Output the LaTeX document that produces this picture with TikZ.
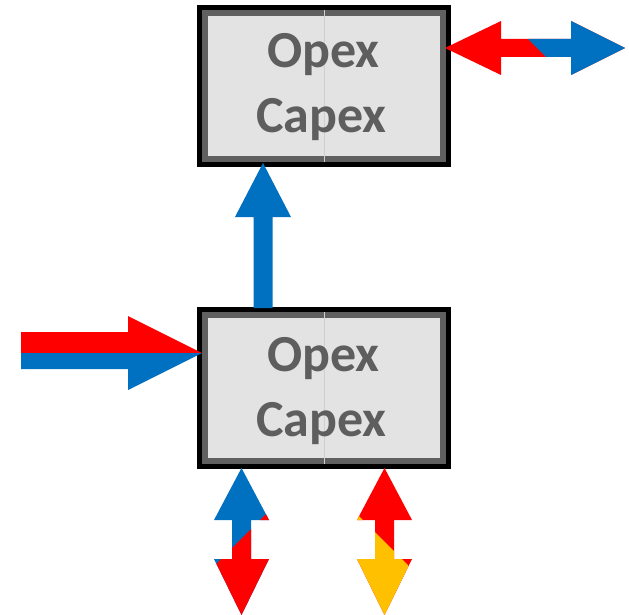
\documentclass[tikz,border=0pt]{standalone}
\usepackage{fontspec}
\setmainfont{Carlito}
\usetikzlibrary{calc}
\definecolor{arRed}{HTML}{FF0000}
\definecolor{arBlue}{HTML}{0070C0}
\definecolor{arYellow}{HTML}{FFC000}
\definecolor{boxFill}{HTML}{E3E3E3}
\definecolor{bandGray}{HTML}{606060}
\definecolor{txtGray}{HTML}{5E5E5E}
\definecolor{seam}{HTML}{CFCFCF}
\begin{document}
\begin{tikzpicture}[x=1pt,y=-1pt,
  box/.style={draw=black, line width=5pt, fill=boxFill, minimum width=249pt, minimum height=157pt, inner sep=0pt, outer sep=0pt},
  band/.style={draw=bandGray, line width=6pt},
  seamline/.style={draw=seam, line width=0.7pt},
  lbl/.style={font=\fontsize{52}{52}\selectfont\bfseries, text=txtGray, inner sep=0pt, anchor=base}]
\useasboundingbox (0,0) rectangle (629,615);

% boxes
\node[box] (top) at (324,86) {};
\node[box] (bot) at (324,388) {};
\foreach \b in {top,bot}{
  \draw[band] ($(\b.north west)+(5.5,5.5)$) rectangle ($(\b.south east)+(-5.5,-5.5)$);
  \draw[seamline] ($(\b.north)+(0,2.5)$) -- ($(\b.south)+(0,-2.5)$);
}
\node[lbl] (topA) at (323.5,68) {Opex};
\node[lbl] (topB) at (321.5,133) {Capex};
\node[lbl] (botA) at (323.5,371) {Opex};
\node[lbl] (botB) at (321.5,436) {Capex};

% up arrow between boxes
\coordinate (upTip) at (263,163);
\coordinate (upBase) at (263,308);
\fill[arBlue] ($(upBase)+(-9.5,0)$) -- ($(upTip)+(-9.5,54)$) -- ($(upTip)+(-28,54)$) -- (upTip)
  -- ($(upTip)+(28,54)$) -- ($(upTip)+(9.5,54)$) -- ($(upBase)+(9.5,0)$) -- cycle;

% top-right double arrow (red / blue)
\coordinate (trL) at (445,48);
\coordinate (trR) at (625,48);
\begin{scope}
  \clip (trL) -- (501,21) -- (501,39) -- (571,39) -- (571,21) -- (trR) -- (571,75) -- (571,57) -- (501,57) -- (501,75) -- cycle;
  \fill[arRed] (440,10) rectangle (630,90);
  \fill[arBlue] (500,11) -- (580,91) -- (700,91) -- (700,11) -- cycle;
\end{scope}

% left incoming arrow (red over blue)
\coordinate (lTail) at (21,353);
\coordinate (lTip) at (202,353);
\begin{scope}
  \clip (21,332) -- (128,332) -- (128,316) -- (lTip) -- (128,390) -- (128,369) -- (21,369) -- cycle;
  \fill[arRed] (15,310) rectangle (210,353);
  \fill[arBlue] (15,353) rectangle (210,395);
\end{scope}

% bottom-left double arrow (blue / red)
\coordinate (blTop) at (241.5,468);
\coordinate (blBot) at (241.5,615);
\begin{scope}
  \clip (blTop) -- (269,520) -- (251,520) -- (251,559) -- (269,559) -- (blBot) -- (214,559) -- (232,559) -- (232,520) -- (214,520) -- cycle;
  \fill[arBlue] (205,460) rectangle (280,620);
  \fill[arRed] (150,630) -- (330,450) -- (330,630) -- cycle;
\end{scope}

% bottom-right double arrow (red / yellow)
\coordinate (brTop) at (384.5,468);
\coordinate (brBot) at (384.5,615);
\begin{scope}
  \clip (brTop) -- (412,520) -- (394,520) -- (394,559) -- (412,559) -- (brBot) -- (357,559) -- (375,559) -- (375,520) -- (357,520) -- cycle;
  \fill[arRed] (345,460) rectangle (420,620);
  \fill[arYellow] (300,457) -- (470,627) -- (300,627) -- cycle;
\end{scope}
\end{tikzpicture}
\end{document}
